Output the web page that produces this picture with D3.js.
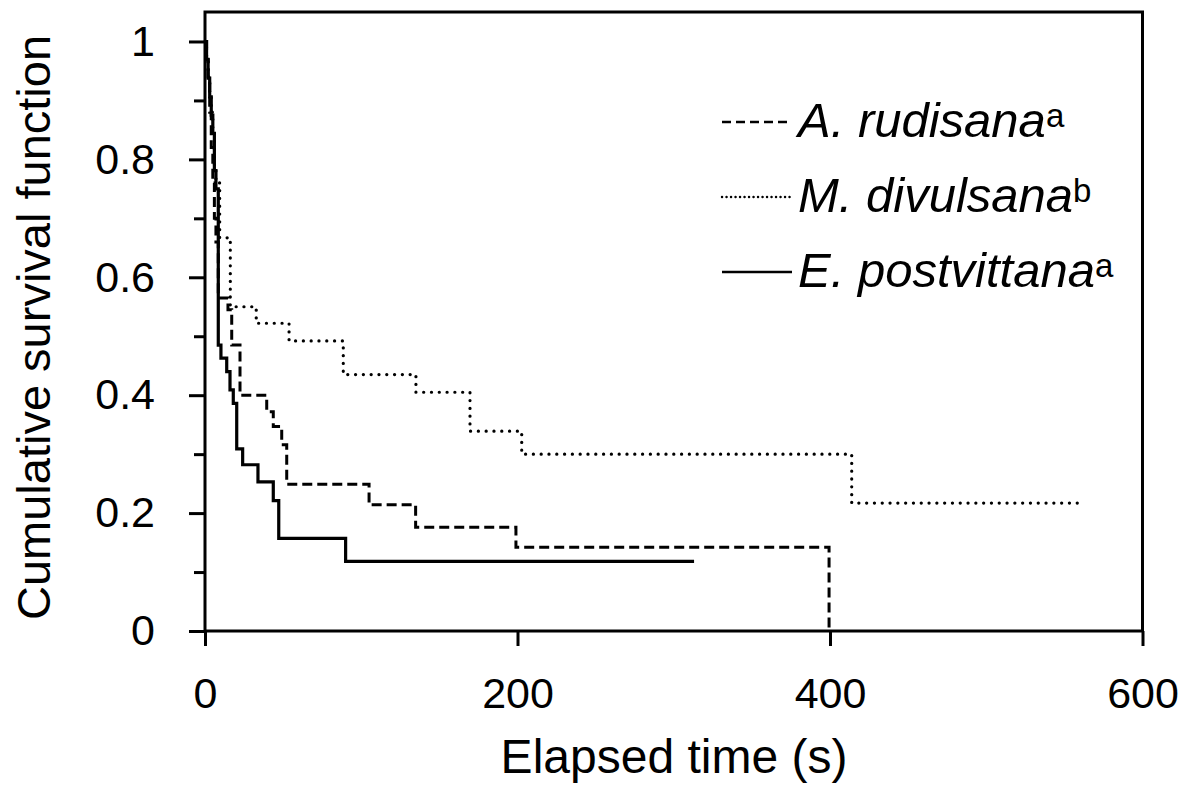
<!DOCTYPE html>
<html>
<head>
<meta charset="utf-8">
<script src="https://cdn.jsdelivr.net/npm/d3@7"></script>
<style>
  html, body { margin: 0; padding: 0; background: #fff; }
  svg { display: block; font-family: "Liberation Sans", Arial, sans-serif; }
</style>
</head>
<body>
<svg id="chart" width="1194" height="792"></svg>
<script>
// ---- Data ----
// Kaplan-Meier steps: at time t (s) survival drops to value s
const rudisanaTime = [0, 1, 2, 3, 4, 5, 6, 7, 8.5, 14.7, 17.1, 22.4, 39.5, 43.7, 49.1, 52.3, 105, 134.8, 199, 399.4];
const rudisanaSurv = [1, 0.97, 0.94, 0.88, 0.82, 0.76, 0.70, 0.66, 0.565, 0.545, 0.485, 0.40, 0.372, 0.347, 0.316, 0.249, 0.214, 0.176, 0.142, 0];

const divulsanaTime = [0, 1, 2, 3, 4, 5, 6, 7, 9.4, 16.2, 32.8, 53.8, 88.5, 135, 169.6, 202.7, 413.9, 561];
const divulsanaSurv = [1, 0.97, 0.94, 0.91, 0.88, 0.85, 0.79, 0.76, 0.667, 0.55, 0.522, 0.492, 0.435, 0.405, 0.339, 0.30, 0.217, 0.217];

const postvittanaTime = [0, 1, 2, 3, 4, 5, 6, 7, 8.5, 10.2, 13.9, 16, 18.1, 20.3, 24.1, 33.9, 43.7, 47.2, 90, 313];
const postvittanaSurv = [1, 0.969, 0.938, 0.906, 0.875, 0.844, 0.781, 0.75, 0.485, 0.463, 0.44, 0.409, 0.386, 0.309, 0.282, 0.253, 0.221, 0.157, 0.118, 0.118];

const seriesNames = ["A. rudisana", "M. divulsana", "E. postvittana"];
const seriesSup = ["a", "b", "a"];

const xTicks = [0, 200, 400, 600];
const xTickLabels = ["0", "200", "400", "600"];
const yTicks = [0, 0.2, 0.4, 0.6, 0.8, 1];
const yTickLabels = ["0", "0.2", "0.4", "0.6", "0.8", "1"];
const yMinorTicks = [0.1, 0.3, 0.5, 0.7, 0.9];

const xTitle = "Elapsed time (s)";
const yTitle = "Cumulative survival function";

// ---- Layout ----
const svg = d3.select("#chart");
const mLeft = 205, mRight = 1142.5, mTop = 12, mBottom = 631;

const x = d3.scaleLinear().domain([0, 600]).range([mLeft, mRight]);
const y = d3.scaleLinear().domain([0, 1.05]).range([mBottom, mTop]);

const series = [
  { time: rudisanaTime, surv: rudisanaSurv, dash: "10 5", cap: "butt", width: 3 },
  { time: divulsanaTime, surv: divulsanaSurv, dash: "0.1 7.7", cap: "round", width: 3.2 },
  { time: postvittanaTime, surv: postvittanaSurv, dash: null, cap: "butt", width: 3.2 }
];

// ---- Curves ----
const line = d3.line()
  .x(d => x(d[0]))
  .y(d => y(d[1]))
  .curve(d3.curveStepAfter);

series.forEach(s => {
  const pts = s.time.map((t, i) => [t, s.surv[i]]);
  svg.append("path")
    .attr("d", line(pts))
    .attr("fill", "none")
    .attr("stroke", "#000")
    .attr("stroke-width", s.width)
    .attr("stroke-linecap", s.cap)
    .attr("stroke-dasharray", s.dash);
});

// ---- Axes ----
const gy = svg.append("g").attr("transform", `translate(${mLeft},0)`)
  .call(d3.axisLeft(y).tickValues(yTicks).tickSize(16).tickPadding(34)
    .tickFormat((d, i) => yTickLabels[i]));
const gyMinor = svg.append("g").attr("transform", `translate(${mLeft},0)`)
  .call(d3.axisLeft(y).tickValues(yMinorTicks).tickSize(11).tickFormat(""));
const gx = svg.append("g").attr("transform", `translate(0,${mBottom})`)
  .call(d3.axisBottom(x).tickValues(xTicks).tickSize(15).tickPadding(31)
    .tickFormat((d, i) => xTickLabels[i]));

[gy, gyMinor, gx].forEach(g => {
  g.selectAll(".domain").remove();
  g.selectAll(".tick line").attr("stroke", "#000").attr("stroke-width", 3);
  g.selectAll(".tick text").attr("fill", "#000")
    .style("font-family", "'Liberation Sans', Arial, sans-serif")
    .style("font-size", "43px");
});

// Frame
svg.append("rect")
  .attr("x", x(0)).attr("y", y(1.05))
  .attr("width", x(600) - x(0)).attr("height", y(0) - y(1.05))
  .attr("fill", "none").attr("stroke", "#000").attr("stroke-width", 3);

// ---- Titles ----
svg.append("text")
  .attr("x", 674).attr("y", 773)
  .attr("text-anchor", "middle")
  .style("font-size", "48px")
  .text(xTitle);

svg.append("text")
  .attr("transform", `translate(50,${(mTop + mBottom) / 2 + 6}) rotate(-90)`)
  .attr("text-anchor", "middle")
  .style("font-size", "47px")
  .text(yTitle);

// ---- Legend ----
const legendY = [122, 197, 272];
const legendStyles = [
  { dash: "9 5", cap: "butt", width: 2.5 },
  { dash: "0.1 4.4", cap: "round", width: 2.4 },
  { dash: null, cap: "butt", width: 2.6 }
];
seriesNames.forEach((name, i) => {
  const ly = legendY[i];
  svg.append("line")
    .attr("x1", 722).attr("x2", 792).attr("y1", ly).attr("y2", ly)
    .attr("stroke", "#000")
    .attr("stroke-width", legendStyles[i].width)
    .attr("stroke-linecap", legendStyles[i].cap)
    .attr("stroke-dasharray", legendStyles[i].dash);
  const t = svg.append("text")
    .attr("x", 798).attr("y", ly + 15)
    .style("font-size", "49px");
  t.append("tspan").style("font-style", "italic").text(name);
  t.append("tspan").attr("dy", -10).style("font-size", "33px").text(seriesSup[i]);
});
</script>
</body>
</html>
